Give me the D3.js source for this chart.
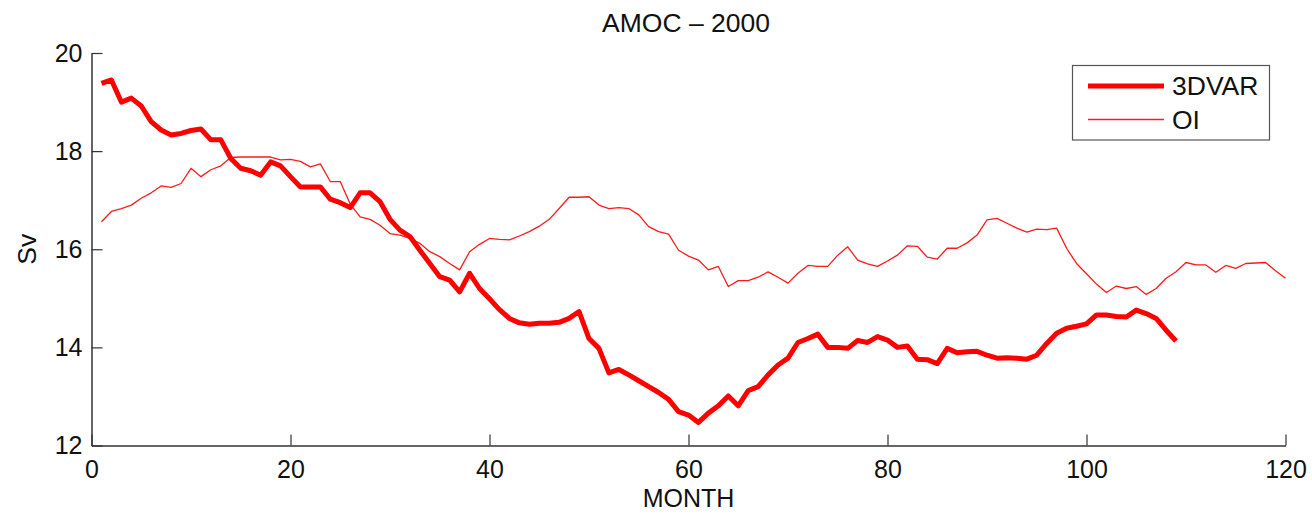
<!DOCTYPE html>
<html>
<head>
<meta charset="utf-8">
<script src="https://cdn.jsdelivr.net/npm/d3@7"></script>
<style>
  html, body { margin: 0; padding: 0; background: #fff; }
  svg { display: block; }
  text { font-family: "Liberation Sans", Arial, Helvetica, sans-serif; fill: #111; }
</style>
</head>
<body>
<svg id="chart" width="1312" height="518"></svg>
<script>
// ---- data ----
const title = "AMOC \u2013 2000";
const xLabel = "MONTH";
const yLabel = "Sv";
const seriesNames = ["3DVAR", "OI"];
const xTicks = [0, 20, 40, 60, 80, 100, 120];
const yTicks = [12, 14, 16, 18, 20];

const months3DVAR = d3.range(1, 110);
const values3DVAR = [
  19.38, 19.45, 19.00, 19.08, 18.92, 18.60, 18.43, 18.33, 18.36, 18.42,
  18.45, 18.23, 18.23, 17.85, 17.65, 17.60, 17.51, 17.78, 17.70, 17.48,
  17.27, 17.27, 17.27, 17.02, 16.95, 16.85, 17.15, 17.15, 16.97, 16.61,
  16.39, 16.26, 15.98, 15.71, 15.44, 15.37, 15.13, 15.51, 15.20, 14.99,
  14.77, 14.59, 14.50, 14.47, 14.49, 14.49, 14.51, 14.59, 14.73, 14.18,
  13.98, 13.48, 13.55, 13.44, 13.32, 13.20, 13.08, 12.94, 12.69, 12.62,
  12.47, 12.66, 12.81, 13.01, 12.81, 13.12, 13.20, 13.44, 13.64, 13.78,
  14.10, 14.18, 14.27, 14.00, 14.00, 13.98, 14.14, 14.10, 14.22, 14.15,
  14.00, 14.03, 13.76, 13.75, 13.67, 13.98, 13.89, 13.91, 13.92, 13.84,
  13.78, 13.79, 13.78, 13.76, 13.84, 14.08, 14.29, 14.39, 14.43, 14.48,
  14.66, 14.66, 14.63, 14.62, 14.76, 14.69, 14.59, 14.35, 14.13
];

const monthsOI = d3.range(1, 121);
const valuesOI = [
  16.56, 16.77, 16.83, 16.90, 17.04, 17.15, 17.29, 17.26, 17.34, 17.65,
  17.48, 17.62, 17.70, 17.87, 17.88, 17.88, 17.88, 17.88, 17.82, 17.83,
  17.79, 17.68, 17.74, 17.38, 17.38, 16.92, 16.66, 16.61, 16.49, 16.32,
  16.29, 16.22, 16.12, 15.95, 15.85, 15.71, 15.58, 15.95, 16.10, 16.22,
  16.20, 16.19, 16.27, 16.36, 16.47, 16.61, 16.83, 17.06, 17.06, 17.07,
  16.90, 16.83, 16.85, 16.83, 16.70, 16.46, 16.36, 16.31, 15.98, 15.86,
  15.78, 15.58, 15.65, 15.24, 15.36, 15.36, 15.43, 15.54, 15.43, 15.31,
  15.51, 15.67, 15.65, 15.65, 15.88, 16.05, 15.78, 15.70, 15.65, 15.76,
  15.88, 16.07, 16.06, 15.84, 15.80, 16.02, 16.02, 16.13, 16.29, 16.60,
  16.63, 16.53, 16.43, 16.35, 16.41, 16.40, 16.43, 16.02, 15.71, 15.50,
  15.29, 15.12, 15.25, 15.20, 15.24, 15.08, 15.20, 15.41, 15.54, 15.73,
  15.68, 15.68, 15.53, 15.67, 15.61, 15.71, 15.72, 15.73, 15.56, 15.41
];

// ---- layout ----
const svg = d3.select("#chart");
const plotL = 91.5, plotR = 1285.5, plotT = 53, plotB = 445.5;
const FS = 25, FS_BIG = 26.5;

const x = d3.scaleLinear().domain([0, 120]).range([plotL, plotR]);
const y = d3.scaleLinear().domain([12, 20]).range([plotB, plotT]);

const line = d3.line().x(d => x(d[0])).y(d => y(d[1]));

const data3 = d3.zip(months3DVAR, values3DVAR);
const dataOI = d3.zip(monthsOI, valuesOI);

// lines
svg.append("path").datum(dataOI)
  .attr("d", line).attr("fill", "none")
  .attr("stroke", "#ff1a1a").attr("stroke-width", 1.3).attr("stroke-linejoin", "round");
svg.append("path").datum(data3)
  .attr("d", line).attr("fill", "none")
  .attr("stroke", "#ff0000").attr("stroke-width", 5).attr("stroke-linejoin", "round");

// axes
const axColor = "#333";
const gx = svg.append("g").attr("transform", `translate(0,${plotB})`)
  .call(d3.axisBottom(x).tickValues(xTicks).tickSizeInner(-11).tickSizeOuter(0).tickPadding(15));
const gy = svg.append("g").attr("transform", `translate(${plotL},0)`)
  .call(d3.axisLeft(y).tickValues(yTicks).tickSizeInner(-11).tickSizeOuter(0).tickPadding(9));
[gx, gy].forEach(g => {
  g.select(".domain").attr("stroke", axColor).attr("stroke-width", 1.5);
  g.selectAll(".tick line").attr("stroke", axColor).attr("stroke-width", 1.2);
  g.selectAll(".tick text").attr("font-size", FS).attr("fill", "#111")
    .attr("font-family", '"Liberation Sans", Arial, Helvetica, sans-serif');
});
gx.selectAll(".tick text").attr("dy", "0.71em");

// title and labels
svg.append("text").attr("x", 686).attr("y", 32)
  .attr("text-anchor", "middle").attr("font-size", FS_BIG).text(title);
svg.append("text").attr("x", (plotL + plotR) / 2).attr("y", 507)
  .attr("text-anchor", "middle").attr("font-size", FS).text(xLabel);
svg.append("text").attr("transform", `translate(36,${(plotT + plotB) / 2}) rotate(-90)`)
  .attr("text-anchor", "middle").attr("font-size", FS_BIG).text(yLabel);

// legend
const lg = svg.append("g");
lg.append("rect").attr("x", 1072.5).attr("y", 65.5).attr("width", 197).attr("height", 74.5)
  .attr("fill", "#fff").attr("stroke", "#555").attr("stroke-width", 1.2);
const legendRows = [
  { name: seriesNames[0], w: 5, color: "#ff0000", ly: 86, ty: 95 },
  { name: seriesNames[1], w: 1.3, color: "#ff1a1a", ly: 119.5, ty: 129 }
];
legendRows.forEach(r => {
  lg.append("line").attr("x1", 1088).attr("x2", 1164).attr("y1", r.ly).attr("y2", r.ly)
    .attr("stroke", r.color).attr("stroke-width", r.w);
  lg.append("text").attr("x", 1172).attr("y", r.ty).attr("font-size", FS_BIG).text(r.name);
});
</script>
</body>
</html>
